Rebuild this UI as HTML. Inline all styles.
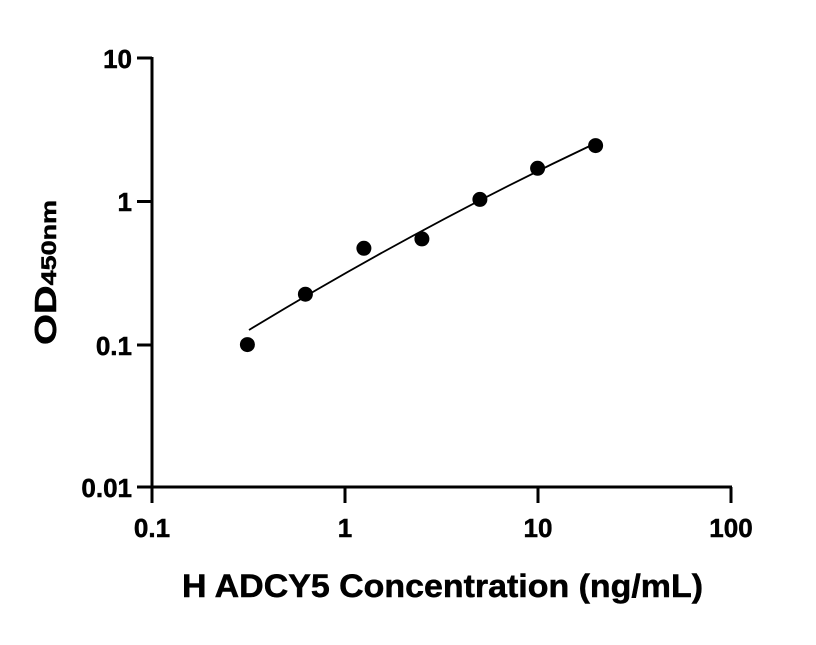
<!DOCTYPE html>
<html><head><style>body{margin:0;background:#fff}</style></head><body>
<svg width="816" height="640" viewBox="0 0 816 640" xmlns="http://www.w3.org/2000/svg" font-family="Liberation Sans, DejaVu Sans, sans-serif" font-weight="bold">
<g stroke="#000" stroke-width="3" fill="none">
<line x1="152" y1="57" x2="152" y2="503"/>
<line x1="137" y1="487" x2="732" y2="487"/>
<line x1="137" y1="58" x2="152" y2="58"/>
<line x1="137" y1="201.5" x2="152" y2="201.5"/>
<line x1="137" y1="345" x2="152" y2="345"/>
<line x1="345" y1="487" x2="345" y2="503"/>
<line x1="538" y1="487" x2="538" y2="503"/>
<line x1="731" y1="487" x2="731" y2="503"/>
</g>
<g font-size="26" text-anchor="end" stroke="#000" stroke-width="0.5">
<text x="132" y="68">10</text>
<text x="132" y="211">1</text>
<text x="132" y="355">0.1</text>
<text x="132" y="497">0.01</text>
</g>
<g font-size="26" text-anchor="middle" stroke="#000" stroke-width="0.5">
<text x="152" y="537">0.1</text>
<text x="345" y="537">1</text>
<text x="538" y="537">10</text>
<text x="731" y="537">100</text>
</g>
<text x="182" y="597" font-size="32" textLength="521" lengthAdjust="spacingAndGlyphs" stroke="#000" stroke-width="0.5">H ADCY5 Concentration (ng/mL)</text>
<text transform="translate(56,345) rotate(-90)" font-size="31" textLength="145" lengthAdjust="spacingAndGlyphs" stroke="#000" stroke-width="0.5">OD<tspan font-size="21">450nm</tspan></text>
<path d="M249 330 Q420 226 596 143" stroke="#000" stroke-width="1.8" fill="none"/>
<g fill="#000">
<circle cx="247.4" cy="344.6" r="7.5"/>
<circle cx="305.4" cy="294.2" r="7.5"/>
<circle cx="363.9" cy="248.3" r="7.5"/>
<circle cx="421.9" cy="238.9" r="7.5"/>
<circle cx="479.9" cy="199.4" r="7.5"/>
<circle cx="537.6" cy="168.3" r="7.5"/>
<circle cx="595.6" cy="145.6" r="7.5"/>
</g>
</svg>
</body></html>
